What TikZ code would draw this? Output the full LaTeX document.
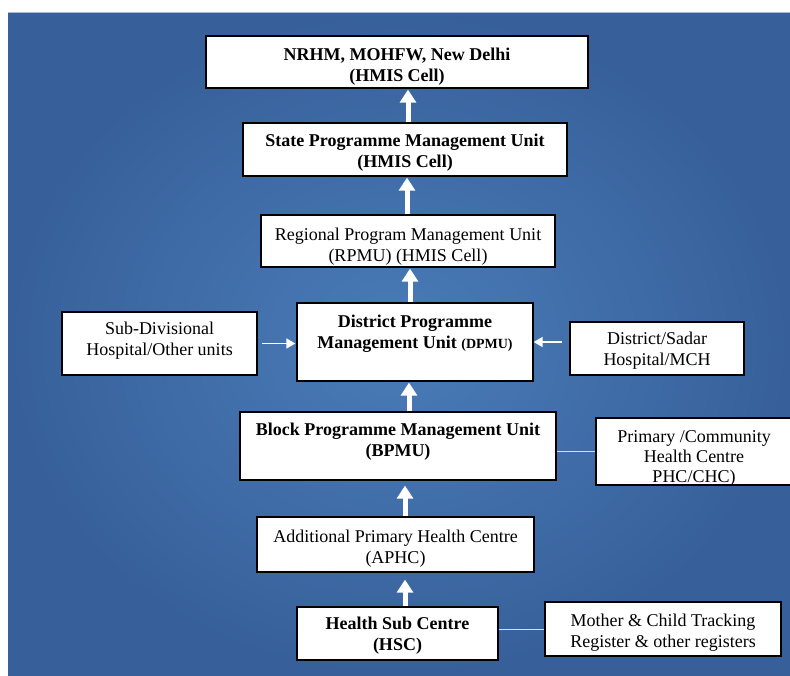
\documentclass[tikz,border=0pt]{standalone}
\usepackage{fontspec}
\setmainfont{Liberation Serif}
\usetikzlibrary{arrows.meta}
\definecolor{bgmid}{HTML}{4A7CB8}
\definecolor{bgedge}{HTML}{37609A}
\definecolor{bgline}{HTML}{A9BCD3}
\newcommand{\lift}[1]{\rule{0pt}{#1}}
\begin{document}
\begin{tikzpicture}[x=1pt, y=-1pt,
    unit/.style={draw=black, line width=1.3pt, fill=white, align=center, inner sep=2pt, font=\fontsize{18}{21}\selectfont},
    head/.style={unit, font=\fontsize{18}{21}\selectfont\bfseries},
    upflow/.style={draw=white, line width=5pt, -{Triangle[width=16pt, length=13pt]}},
    sideflow/.style={draw=white, line width=1.6pt, -{Triangle[width=10pt, length=9pt]}},
    link/.style={draw=white!85!blue, line width=1pt}]
    \useasboundingbox (0,0) rectangle (790,675);
    \fill[white] (0,0) rectangle (790,675);
    \shade[inner color=bgmid, outer color=bgedge] (8,12) rectangle (790,675);
    \draw[bgline, line width=1pt] (8,12) -- (790,12);

    \node[head, minimum width=382pt, minimum height=52pt] (nrhm) at (397,62) {\lift{22pt}NRHM, MOHFW, New Delhi\\(HMIS Cell)};
    \node[head, minimum width=324pt, minimum height=53pt] (spmu) at (405,149.5) {\lift{19pt}State Programme Management Unit\\(HMIS Cell)};
    \node[unit, minimum width=294pt, minimum height=52pt] (rpmu) at (408,241) {\lift{23pt}Regional Program Management Unit\\(RPMU) (HMIS Cell)};
    \node[head, minimum width=236pt, minimum height=78pt, text depth=26pt] (dpmu) at (415,342) {\lift{17pt}District Programme\\Management Unit {\fontsize{14}{16}\selectfont(DPMU)}};
    \node[unit, minimum width=195pt, minimum height=63pt, text depth=9pt] (subdiv) at (159.5,343.5) {Sub-Divisional\\Hospital/Other units};
    \node[unit, minimum width=174pt, minimum height=53pt] (sadar) at (657,348.5) {\lift{17pt}District/Sadar\\Hospital/MCH};
    \node[head, minimum width=316pt, minimum height=68pt, text depth=18pt] (bpmu) at (398,446) {\lift{17.5pt}Block Programme Management Unit\\(BPMU)};
    \node[unit, minimum width=196pt, minimum height=67pt, text depth=0pt, font=\fontsize{18}{20}\selectfont] (phc) at (694,451.5) {\lift{21pt}Primary /Community\\Health Centre\\PHC/CHC)};
    \node[unit, minimum width=277pt, minimum height=55pt] (aphc) at (395.5,544.5) {\lift{21pt}Additional Primary Health Centre\\(APHC)};
    \node[head, minimum width=201pt, minimum height=53pt] (hsc) at (397.5,633.5) {\lift{17pt}Health Sub Centre\\(HSC)};
    \node[unit, minimum width=236pt, minimum height=54pt] (mct) at (663,629) {\lift{19pt}Mother \& Child Tracking\\Register \& other registers};

    \draw[upflow, shorten >=1pt] ([xshift=3pt]spmu.north) -- ([xshift=3pt]spmu.north |- nrhm.south);
    \draw[upflow, shorten >=1pt] ([xshift=-1pt]rpmu.north) -- ([xshift=-1pt]rpmu.north |- spmu.south);
    \draw[upflow, shorten >=1pt] ([xshift=-5pt]dpmu.north) -- ([xshift=-5pt]dpmu.north |- rpmu.south);
    \draw[upflow, shorten >=1pt] ([xshift=11pt]bpmu.north) -- ([xshift=11pt]bpmu.north |- dpmu.south);
    \draw[upflow, shorten >=5pt] ([xshift=9.5pt]aphc.north) -- ([xshift=9.5pt]aphc.north |- bpmu.south);
    \draw[upflow, shorten >=7pt] ([xshift=7.5pt]hsc.north) -- ([xshift=7.5pt]hsc.north |- aphc.south);
    \draw[sideflow, shorten <=4pt, shorten >=1pt] (subdiv.east) -- (subdiv.east -| dpmu.west);
    \draw[sideflow, shorten <=7pt] (sadar.west |- dpmu.east) -- (dpmu.east);
    \draw[link] (bpmu.east |- phc.west) -- (phc.west);
    \draw[link] (hsc.east |- mct.west) -- (mct.west);
\end{tikzpicture}
\end{document}
